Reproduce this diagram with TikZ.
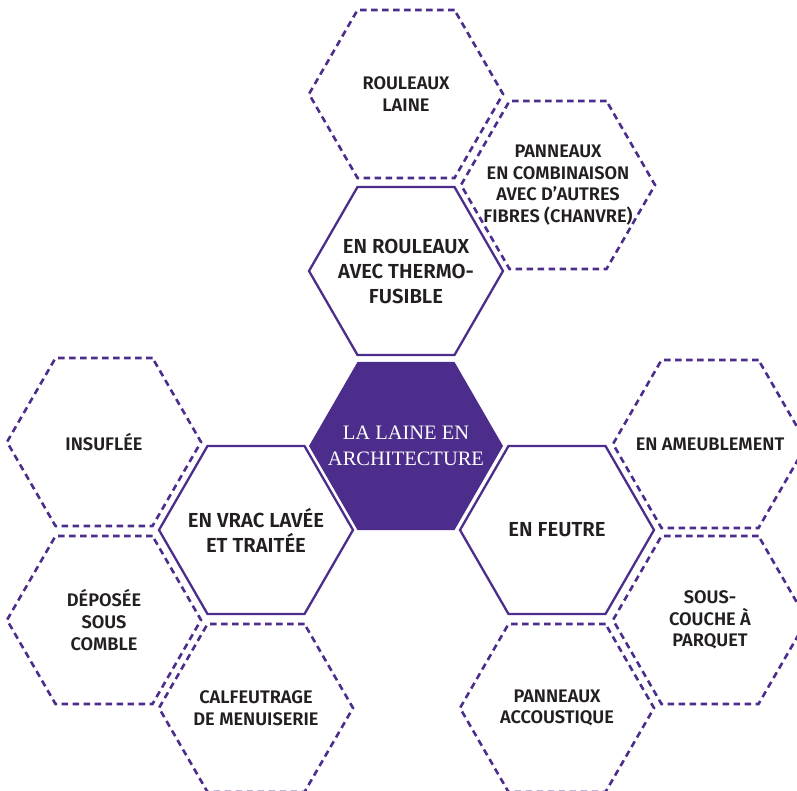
\documentclass[tikz,border=0pt]{standalone}
\usepackage{fontspec}
\setmainfont{Fira Sans}[BoldFont={Fira Sans SemiBold}]
\newfontfamily\titlefont{Liberation Serif}
\usetikzlibrary{shapes.geometric}
\definecolor{laine}{RGB}{76,45,140}
\definecolor{ink}{RGB}{35,31,32}
\tikzset{
  hexbase/.style={regular polygon, regular polygon sides=6, minimum size=194pt,
    inner sep=0pt},
  hexsolid/.style={hexbase, draw=laine, line width=2.3pt},
  hexdash/.style={hexbase, draw=laine, line width=2.6pt, dash pattern=on 6.5pt off 4.5pt},
  hexmain/.style={hexbase, fill=laine},
  solidtext/.style={align=center, text=ink, inner sep=0pt,
    font=\fontsize{20.3}{25}\selectfont\bfseries},
  dashtext/.style={align=center, text=ink, inner sep=0pt,
    font=\fontsize{18.2}{21.7}\selectfont\bfseries},
  maintext/.style={align=center, text=white, inner sep=0pt,
    font=\fontsize{20.5}{26}\selectfont\titlefont}
}
\begin{document}
\begin{tikzpicture}[x=1pt,y=-1pt]
    \useasboundingbox (0,0) rectangle (797,791);
    \clip (0,0) rectangle (797,791);
    % centre
    \node[hexmain, label={[maintext]center:{LA LAINE EN\\ARCHITECTURE}}] (main) at (406,446) {};
    % the three ways
    \node[hexsolid, label={[solidtext]center:{EN ROULEAUX\\AVEC THERMO-\\FUSIBLE}}] (rouleaux) at (406,271) {};
    \node[hexsolid, label={[solidtext]center:{EN VRAC LAVÉE\\ET TRAITÉE}}] (vrac) at (256,530) {};
    \node[hexsolid, label={[solidtext]center:{EN FEUTRE}}] (feutre) at (557,530) {};
    % uses
    \foreach \p/\n/\t in {
        {(406,94)}/laine/{ROULEAUX\\LAINE},
        {(558,185)}/combi/{PANNEAUX\\EN COMBINAISON\\AVEC D’AUTRES\\FIBRES (CHANVRE)},
        {(104,442)}/insuf/{INSUFLÉE},
        {(104,620)}/comble/{DÉPOSÉE\\SOUS\\COMBLE},
        {(256,708)}/calfeu/{CALFEUTRAGE\\DE MENUISERIE},
        {(710,444)}/ameub/{EN AMEUBLEMENT},
        {(710,620)}/parquet/{SOUS-\\COUCHE À\\PARQUET},
        {(557,708)}/acous/{PANNEAUX\\ACCOUSTIQUE}}{
        \node[hexdash, label={[dashtext]center:{\t}}] (\n) at \p {};
    }
\end{tikzpicture}
\end{document}
